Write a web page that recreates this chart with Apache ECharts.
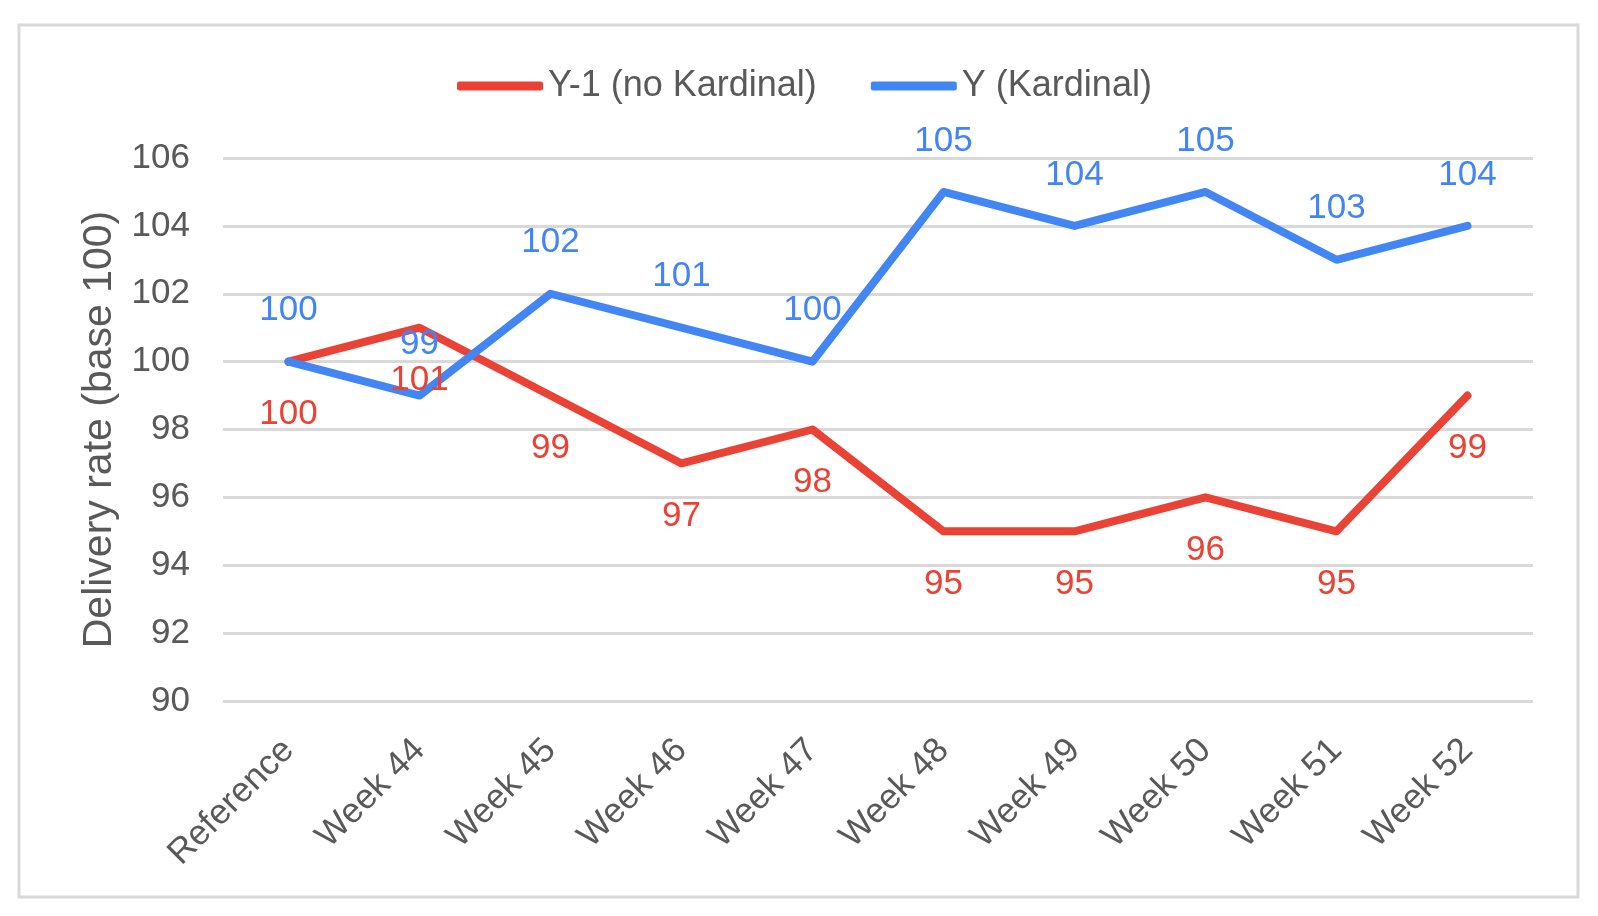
<html>
    <head>
        <meta charset="utf-8">
        <script src="https://cdn.jsdelivr.net/npm/echarts@6/dist/echarts.min.js"></script>
        <style>
            html, body { margin: 0; padding: 0; background: #fff; }
            #main { width: 1598px; height: 916px; }
        </style>
    </head>
    <body>
        <div id="main"></div>
        <script>

        var myChart = echarts.init(document.getElementById('main'));

        // categories and values
        var weeks = ['Reference', 'Week 44', 'Week 45', 'Week 46', 'Week 47',
                     'Week 48', 'Week 49', 'Week 50', 'Week 51', 'Week 52'];
        var lastYear = [100, 101, 99, 97, 98, 95, 95, 96, 95, 99];
        var thisYear = [100, 99, 102, 101, 100, 105, 104, 105, 103, 104];
        var seriesNames = ['Y-1 (no Kardinal)', 'Y (Kardinal)'];

        var RED = '#EA4335';
        var BLUE = '#4285F4';
        var GREY = '#595959';
        var FONT = '"Liberation Sans", Arial, sans-serif';

        function lineSeries(name, data, color, pos, dist) {
            return {
                type: 'line',
                name: name,
                data: data,
                symbol: 'circle',
                symbolSize: 2,
                showSymbol: true,
                itemStyle: { color: color },
                lineStyle: {
                    color: color,
                    width: 8,
                    cap: 'round',
                    join: 'round'
                },
                label: {
                    show: true,
                    position: pos,
                    distance: dist,
                    color: color,
                    fontSize: 35,
                    lineHeight: 36,
                    fontFamily: FONT
                },
                emphasis: { disabled: true },
                animation: false
            };
        }

        option = {
            backgroundColor: '#fff',
            animation: false,
            textStyle: { fontFamily: FONT },
            graphic: [
                {
                    type: 'rect',
                    shape: { x: 19, y: 25, width: 1559, height: 872 },
                    style: { fill: 'none', stroke: '#d9d9d9', lineWidth: 3 },
                    z: -1
                }
            ],
            legend: {
                left: 452,
                top: 63,
                itemWidth: 86,
                itemHeight: 9,
                itemGap: 54,
                icon: 'roundRect',
                textStyle: {
                    color: GREY,
                    fontSize: 36,
                    fontFamily: FONT,
                    padding: [0, 0, 0, 0]
                },
                data: seriesNames
            },
            grid: {
                left: 223,
                right: 65,
                top: 158,
                bottom: 215
            },
            xAxis: {
                type: 'category',
                data: weeks,
                boundaryGap: true,
                axisLine: { show: false },
                axisTick: { show: false },
                axisLabel: {
                    rotate: 45,
                    margin: 44,
                    color: GREY,
                    fontSize: 35,
                    fontFamily: FONT,
                    interval: 0
                }
            },
            yAxis: {
                type: 'value',
                min: 90,
                max: 106,
                interval: 2,
                name: 'Delivery rate (base 100)',
                nameLocation: 'middle',
                nameGap: 103,
                nameTextStyle: {
                    color: GREY,
                    fontSize: 41,
                    fontFamily: FONT
                },
                axisLine: { show: false },
                axisTick: { show: false },
                axisLabel: {
                    margin: 33,
                    color: GREY,
                    fontSize: 35,
                    fontFamily: FONT
                },
                splitLine: {
                    lineStyle: { color: '#d9d9d9', width: 3 }
                }
            },
            series: [
                lineSeries(seriesNames[0], lastYear, RED, 'bottom', 34),
                lineSeries(seriesNames[1], thisYear, BLUE, 'top', 32)
            ]
        };

        myChart.setOption(option);

        </script>
    </body>
</html>
